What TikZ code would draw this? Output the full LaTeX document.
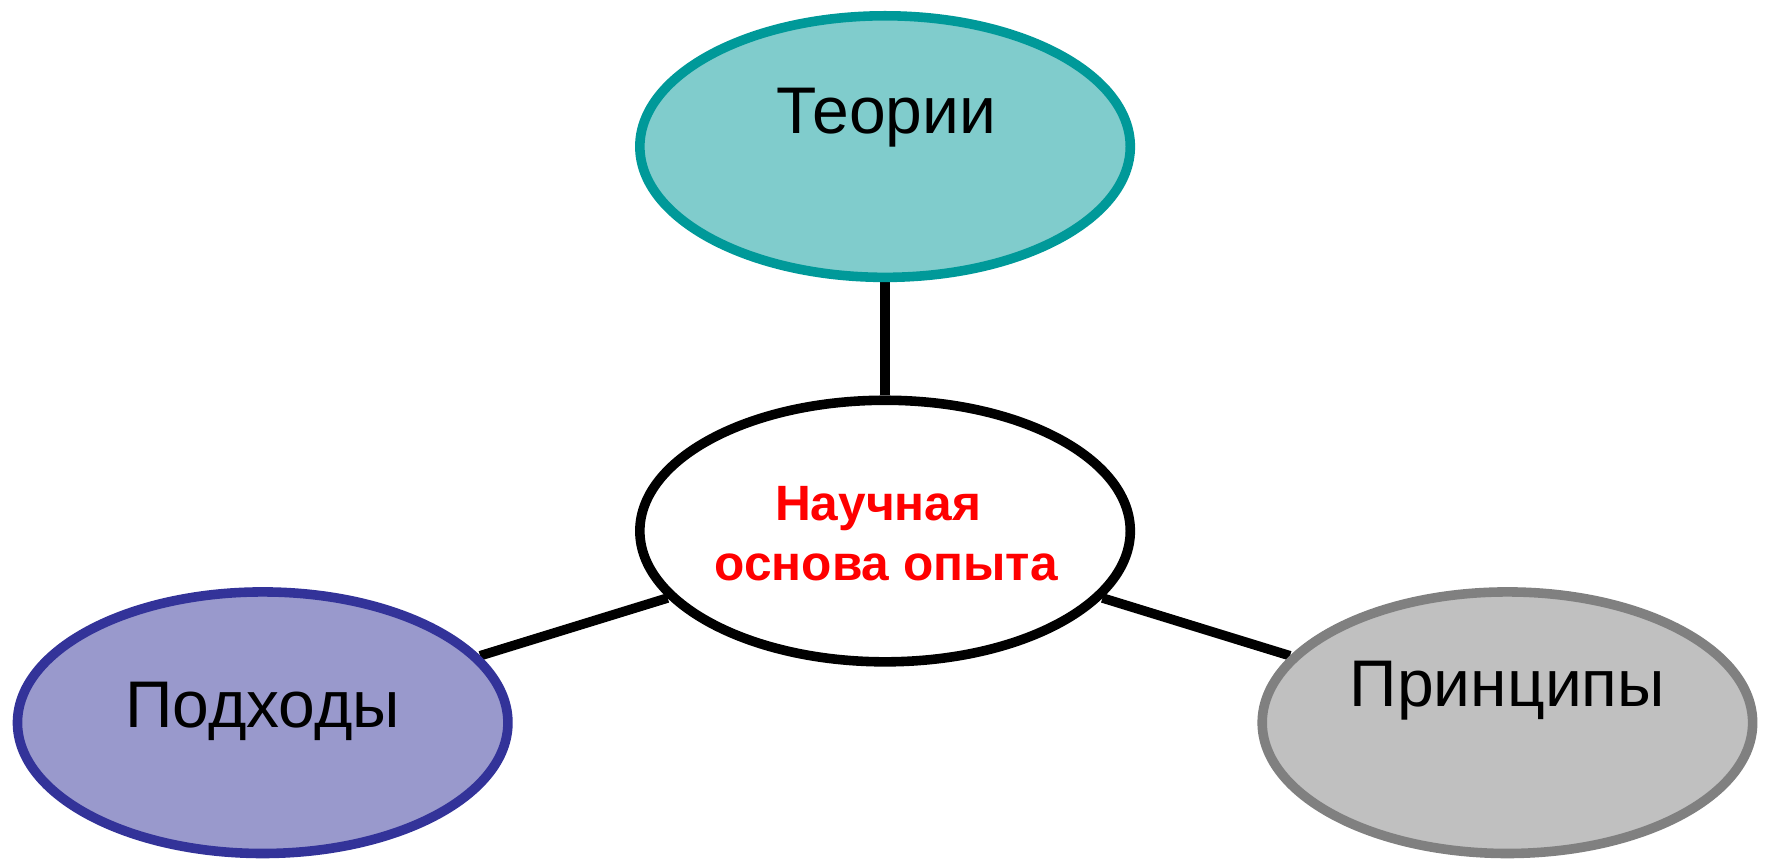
\documentclass[tikz,border=0pt]{standalone}
\usepackage{fontspec}
\setmainfont{Liberation Sans}
\usetikzlibrary{shapes.geometric,backgrounds}
\definecolor{tealfill}{HTML}{80CCCC}
\definecolor{tealline}{HTML}{009999}
\definecolor{bluefill}{HTML}{9999CC}
\definecolor{blueline}{HTML}{333399}
\definecolor{greyfill}{HTML}{C0C0C0}
\definecolor{greyline}{HTML}{808080}
\definecolor{redtext}{HTML}{FF0000}
\tikzset{
  oval/.style={ellipse, draw, line width=8.5pt, minimum width=435pt, minimum height=232pt, inner sep=0pt},
  link/.style={draw=black, line width=8.5pt},
  bigtext/.style={anchor=base, inner sep=0pt, font=\fontsize{58.5}{70}\selectfont},
  redlabel/.style={anchor=base, inner sep=0pt, text=redtext, font=\fontsize{44}{53}\selectfont\bfseries}
}
\begin{document}
\begin{tikzpicture}[x=1pt,y=-1pt]
\useasboundingbox (0,0) rectangle (1569,766);
\node[oval, fill=tealfill, draw=tealline] (theory) at (785,130) {};
\node[oval, fill=white, draw=black] (core) at (785,471) {};
\node[oval, fill=bluefill, draw=blueline] (approach) at (233,641) {};
\node[oval, fill=greyfill, draw=greyline] (principle) at (1337,641) {};
\begin{pgfonlayer}{background}
\draw[link] (theory.south) -- (core.north);
\draw[link] (approach) -- (core);
\draw[link] (principle) -- (core);
\end{pgfonlayer}
\node[bigtext] (t1) at (786,118) {Теории};
\node[bigtext] (t2) at (233,645) {Подходы};
\node[bigtext] (t3) at (1337,627) {Принципы};
\node[redlabel] (t4) at (779,462) {Научная};
\node[redlabel] (t5) at (786,515) {основа опыта};
\end{tikzpicture}
\end{document}
